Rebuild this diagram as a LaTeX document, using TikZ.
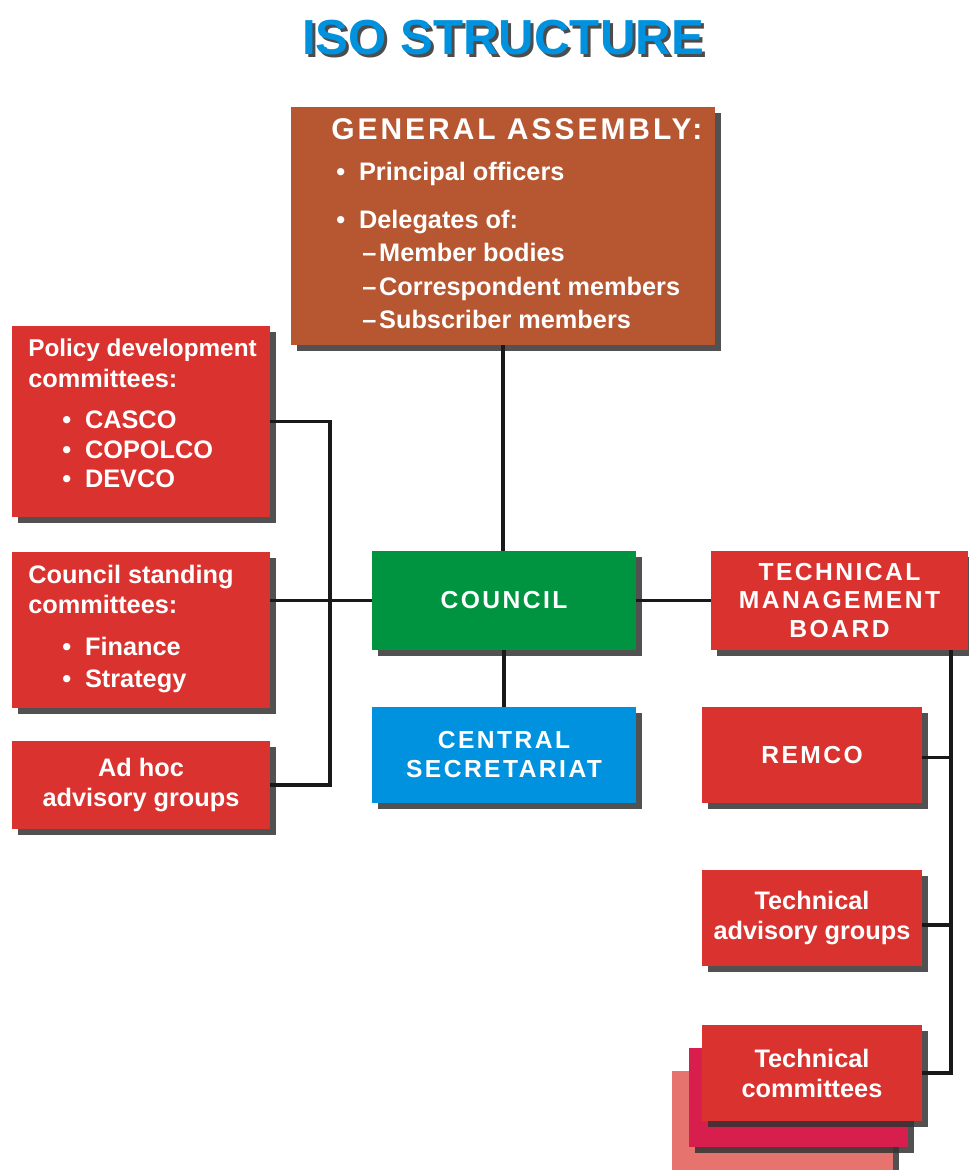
\documentclass[tikz,border=0pt]{standalone}
\usepackage{fontspec}
\setmainfont{Liberation Sans}
\newfontfamily\capsfont{Liberation Sans}[LetterSpace=10]
\usetikzlibrary{positioning,shadows}
\definecolor{isobrown}{RGB}{182,87,50}
\definecolor{isored}{RGB}{217,50,47}
\definecolor{isogreen}{RGB}{0,147,64}
\definecolor{isoblue}{RGB}{0,146,222}
\definecolor{isocrimson}{RGB}{216,30,76}
\definecolor{isopink}{RGB}{230,115,110}
\newcommand{\itm}[1]{\textbullet\hspace{0.55em}#1}
\tikzset{
  box/.style={inner sep=0pt, text=white, align=center,
              font=\fontsize{18}{21.3}\selectfont\bfseries,
              drop shadow={shadow xshift=4pt, shadow yshift=-4pt, fill=black!80, opacity=0.85}},
  redbox/.style={box, fill=isored},
  capsbox/.style={font=\capsfont\fontsize{17.5}{20.6}\selectfont\bfseries},
  txt/.style={inner sep=0pt, text=white, anchor=base west,
              font=\fontsize{18}{21.3}\selectfont\bfseries},
  ttlfont/.style={inner sep=0pt, anchor=base, font=\fontsize{35}{40}\selectfont\bfseries},
  conn/.style={line width=2.2pt, black!90},
}

\begin{document}
\begin{tikzpicture}[x=0.025cm, y=-0.025cm]
  \useasboundingbox (0,0) rectangle (968,1170);
  \node[ttlfont, text=black!70] (ttl-sh) at (506,58) {ISO STRUCTURE};
  \node[ttlfont, text=isoblue] (ttl) at (503,55) {ISO STRUCTURE};

  \node[box, fill=isobrown, minimum width=10.6cm, minimum height=5.95cm] (ga) at (503,226) {};
  \node[txt, font=\capsfont\fontsize{21.3}{24}\selectfont\bfseries] (ga-h) at (331,140) {GENERAL ASSEMBLY:};
  \node[txt] (ga-1) at (336,180) {\itm{Principal officers}};
  \node[txt] (ga-2) at (336,228) {\itm{Delegates of:}};
  \foreach \t/\yy [count=\i] in {Member bodies/261, Correspondent members/295, Subscriber members/328}
    \node[txt] (ga-d\i) at (362,\yy) {\textendash\hspace{2pt}\t};

  \node[redbox, minimum width=6.45cm, minimum height=4.775cm] (pol) at (141,421.5) {};
  \node[txt, font=\fontsize{17.3}{21}\selectfont\bfseries] (pol-h1) at (28,356) {Policy development};
  \node[txt] (pol-h2) at (28,387) {committees:};
  \foreach \t/\yy [count=\i] in {CASCO/428, COPOLCO/458, DEVCO/487}
    \node[txt] (pol-\i) at (62,\yy) {\itm{\t}};

  \node[redbox, minimum width=6.45cm, minimum height=3.9cm] (csc) at (141,630) {};
  \node[txt] (csc-h1) at (28,583) {Council standing};
  \node[txt] (csc-h2) at (28,613) {committees:};
  \foreach \t/\yy [count=\i] in {Finance/655, Strategy/687}
    \node[txt] (csc-\i) at (62,\yy) {\itm{\t}};

  \node[redbox, minimum width=6.45cm, minimum height=2.2cm] (adhoc) at (141,785) {Ad hoc\\advisory groups};

  \node[box, capsbox, fill=isogreen, minimum width=6.6cm, minimum height=2.475cm] (council) at (504,600.5) {COUNCIL};
  \node[box, capsbox, fill=isoblue, minimum width=6.6cm, minimum height=2.4cm] (cs) at (504,755) {CENTRAL\\SECRETARIAT};
  \node[redbox, capsbox, minimum width=6.425cm, minimum height=2.475cm] (tmb) at (839.5,600.5) {TECHNICAL\\MANAGEMENT\\BOARD};
  \node[redbox, capsbox, minimum width=5.5cm, minimum height=2.4cm] (remco) at (812,755) {REMCO};
  \node[redbox, minimum width=5.5cm, minimum height=2.4cm] (tag) at (812,918) {Technical\\advisory groups};
  \node[box, fill=isopink, minimum width=5.525cm, minimum height=2.95cm] (tc3) at (782.5,1130) {};
  \node[box, fill=isocrimson, minimum width=5.475cm, minimum height=2.475cm] (tc2) at (798.5,1097.5) {};
  \node[redbox, minimum width=5.5cm, minimum height=2.4cm] (tc) at (812,1073) {Technical\\committees};

  \coordinate (lbus) at (330,0);
  \coordinate (rbus) at (951,0);
  \draw[conn] (ga.south) -- (ga.south |- council.north);
  \draw[conn] (council.south) -- (cs.north);
  \draw[conn] (council.east) -- (tmb.west);
  \draw[conn] (csc.east |- council.west) -- (council.west);
  \draw[conn] (pol.east) -| (lbus |- adhoc.east) -- (adhoc.east);
  \draw[conn] (tmb.south -| rbus) -- (rbus |- tc.east) -- (tc.east);
  \draw[conn] ([yshift=-2pt]remco.east) coordinate (r1) -- (r1 -| rbus);
  \draw[conn] ([yshift=-5pt]tag.east) coordinate (r2) -- (r2 -| rbus);
\end{tikzpicture}
\end{document}
